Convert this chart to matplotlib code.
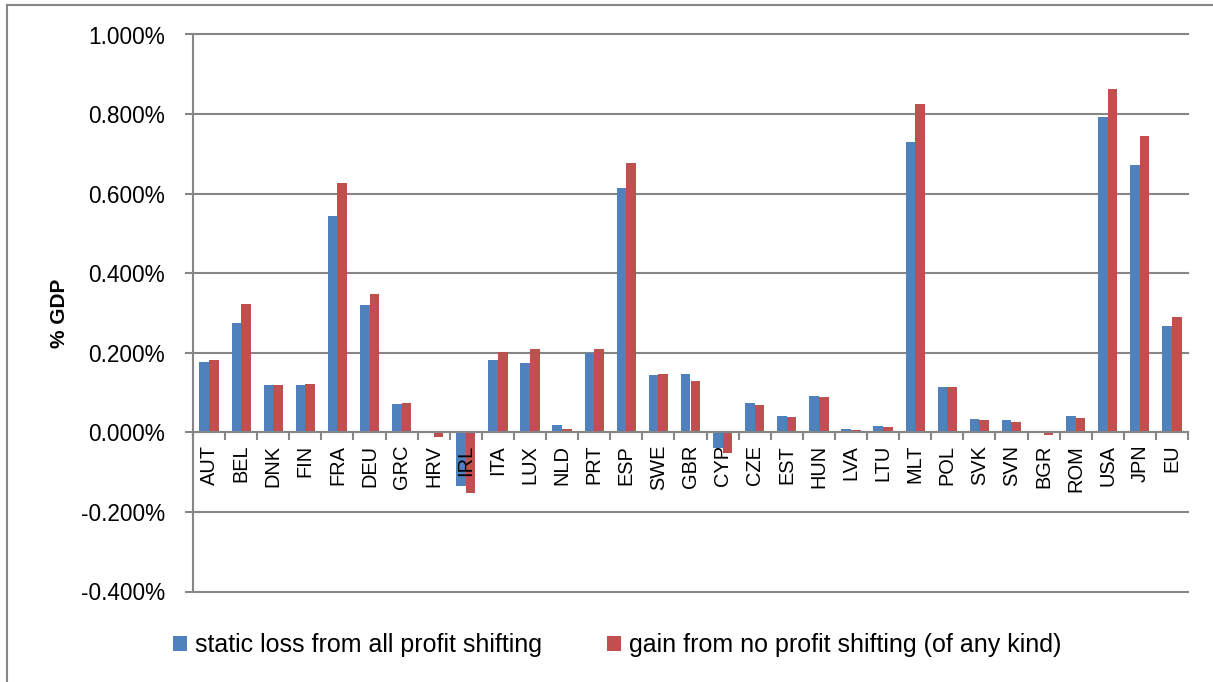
import numpy as np
import matplotlib.pyplot as plt
from matplotlib.lines import Line2D
from matplotlib.ticker import FuncFormatter, MultipleLocator

plt.rcParams["font.family"] = ["Liberation Sans", "DejaVu Sans"]

countries = ["AUT", "BEL", "DNK", "FIN", "FRA", "DEU", "GRC", "HRV", "IRL", "ITA",
             "LUX", "NLD", "PRT", "ESP", "SWE", "GBR", "CYP", "CZE", "EST", "HUN",
             "LVA", "LTU", "MLT", "POL", "SVK", "SVN", "BGR", "ROM", "USA", "JPN", "EU"]
# % of GDP
static_loss = [0.177, 0.274, 0.120, 0.118, 0.543, 0.321, 0.072, -0.001, -0.134, 0.183,
               0.175, 0.019, 0.200, 0.614, 0.145, 0.147, -0.040, 0.074, 0.042, 0.092,
               0.009, 0.017, 0.730, 0.115, 0.034, 0.030, -0.001, 0.040, 0.792, 0.671, 0.267]
gain_no_shift = [0.181, 0.322, 0.119, 0.122, 0.628, 0.347, 0.074, -0.011, -0.153, 0.201,
                 0.209, 0.009, 0.209, 0.678, 0.147, 0.128, -0.053, 0.070, 0.039, 0.090,
                 0.006, 0.014, 0.826, 0.115, 0.030, 0.026, -0.006, 0.037, 0.862, 0.746, 0.290]

blue = "#4F81BD"
red = "#C0504D"
grid_col = "#868686"

fig = plt.figure(figsize=(12.13, 6.82), dpi=100)
ax = fig.add_axes([193 / 1213, 1 - 591.5 / 682, (1188 - 193) / 1213, (591.5 - 34.5) / 682])

x = np.arange(len(countries))
w = 0.3
ax.bar(x - w / 2, static_loss, w, color=blue, label="static loss from all profit shifting", zorder=3)
ax.bar(x + w / 2, gain_no_shift, w, color=red, label="gain from no profit shifting (of any kind)", zorder=3)

ax.set_xlim(-0.5, len(countries) - 0.5)
ax.set_ylim(-0.4, 1.0)
ax.yaxis.set_major_locator(MultipleLocator(0.2))
ax.yaxis.set_major_formatter(FuncFormatter(lambda v, p: f"{v:.3f}%"))
ax.grid(axis="y", color=grid_col, lw=1.5, zorder=0)
for gl in ax.get_ygridlines():
    gl.set_clip_on(False)
ax.tick_params(axis="y", length=6, width=1.5, color=grid_col, labelsize=16.3, pad=14)

# category axis sits on zero
for s in ["top", "right"]:
    ax.spines[s].set_visible(False)
ax.spines["bottom"].set_position(("data", 0))
ax.spines["bottom"].set_color(grid_col)
ax.spines["bottom"].set_linewidth(1.5)
ax.spines["bottom"].set_zorder(4)
ax.spines["left"].set_color(grid_col)
ax.spines["left"].set_linewidth(1.5)
ax.set_xticks(np.arange(-0.5, len(countries), 1.0))
ax.tick_params(axis="x", length=6, width=1.5, color=grid_col, labelbottom=False)

for i, c in enumerate(countries):
    ax.annotate(c, xy=(i, 0), xytext=(0, -9), textcoords="offset points",
                rotation=90, ha="center", va="top", fontsize=14.4, zorder=5)

ax.set_ylabel("% GDP", fontsize=15, fontweight="bold")
ax.yaxis.set_label_coords((69 - 193) / (1188 - 193), (682 - 313 - (682 - 591.5)) / (591.5 - 34.5))

fig.legend(loc="center left", bbox_to_anchor=(173 / 1213, 1 - 645 / 682), ncol=2,
           frameon=False, fontsize=18, handlelength=0.56, handleheight=0.56,
           handletextpad=0.32, columnspacing=2.6, borderpad=0, borderaxespad=0)

# chart area frame (only top and left edges show in the crop)
fig.add_artist(Line2D([7 / 1213, 7 / 1213], [0, 1 - 5 / 682], transform=fig.transFigure, color=grid_col, lw=1.5))
fig.add_artist(Line2D([7 / 1213, 1], [1 - 5 / 682, 1 - 5 / 682], transform=fig.transFigure, color=grid_col, lw=1.5))

fig.savefig("out.png", dpi=100)
